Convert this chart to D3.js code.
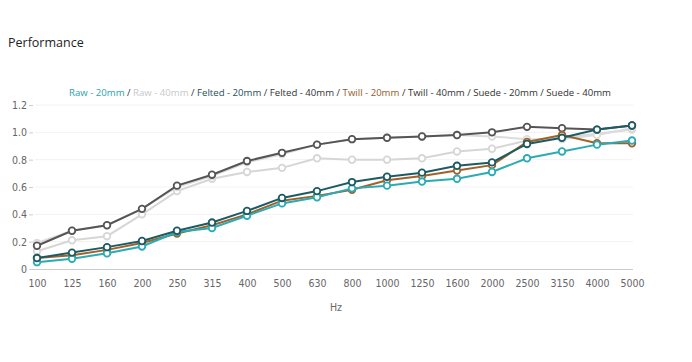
<!DOCTYPE html>
<html><head><meta charset="utf-8">
<script src="https://cdn.jsdelivr.net/npm/d3@7"></script>
<style>body{margin:0;background:#fff}svg{display:block}</style>
</head><body>
<svg id="c" width="692" height="362"></svg>
<script>
const categories = ["100","125","160","200","250","315","400","500","630","800","1000","1250","1600","2000","2500","3150","4000","5000"];
const yTicks = [0,0.2,0.4,0.6,0.8,1.0,1.2];
const yTickLabels = ["0","0.2","0.4","0.6","0.8","1.0","1.2"];
const legendLabels = ["Raw - 20mm","Raw - 40mm","Felted - 20mm","Felted - 40mm","Twill - 20mm","Twill - 40mm","Suede - 20mm","Suede - 40mm"];
const legendColors = ["#2aa3ad","#c8c8c8","#1f4f58","#333333","#9a5a28","#333333","#333333","#333333"];

const raw40    = [0.13,0.21,0.24,0.40,0.57,0.66,0.71,0.74,0.81,0.80,0.80,0.81,0.86,0.88,0.94,0.96,0.99,1.02];
const twill40  = [0.19,0.28,0.32,0.44,0.60,0.68,0.78,0.84,0.91,0.95,0.96,0.97,0.98,0.97,0.95,0.95,0.98,1.03];
const felted40 = [0.17,0.28,0.32,0.44,0.61,0.69,0.79,0.85,0.91,0.95,0.96,0.97,0.98,1.00,1.04,1.03,1.02,1.05];
const twill20  = [0.08,0.10,0.14,0.19,0.26,0.32,0.40,0.50,0.535,0.58,0.65,0.68,0.72,0.76,0.93,0.98,0.92,0.92];
const raw20    = [0.05,0.075,0.115,0.165,0.27,0.30,0.39,0.48,0.525,0.59,0.61,0.64,0.66,0.71,0.81,0.86,0.91,0.94];
const felted20 = [0.08,0.12,0.16,0.205,0.28,0.34,0.425,0.52,0.57,0.636,0.675,0.705,0.755,0.78,0.915,0.96,1.02,1.05];

const series = [
  {name:"Raw - 40mm", values:raw40, color:"#d6d6d6"},
  {name:"Twill - 40mm", values:twill40, color:"#dcdcdc"},
  {name:"Felted - 40mm", values:felted40, color:"#555555"},
  {name:"Twill - 20mm", values:twill20, color:"#a0612a"},
  {name:"Raw - 20mm", values:raw20, color:"#2aabb5"},
  {name:"Felted - 20mm", values:felted20, color:"#1d5b63"}
];

const svg = d3.select("#c");
const x = d3.scalePoint().domain(categories).range([37, 632]);
const y = d3.scaleLinear().domain([0,1.2]).range([269,105]);
const tickFont = "DejaVu Sans Condensed, Liberation Sans Narrow, sans-serif";

svg.append("text").attr("x",8).attr("y",47).text("Performance")
  .attr("font-family","Open Sans, sans-serif").attr("font-size",12.5).attr("fill","#222");

// legend
const lg = svg.append("text").attr("x",340).attr("y",96).attr("text-anchor","middle")
  .attr("font-family","Open Sans, sans-serif").attr("font-size",9.6);
legendLabels.forEach((l,i)=>{
  if(i>0) lg.append("tspan").attr("fill","#333").text(" / ");
  lg.append("tspan").attr("fill",legendColors[i]).text(l);
});

// grid
svg.append("g").selectAll("line").data(yTicks.slice(1)).join("line")
  .attr("x1",35).attr("x2",633).attr("y1",d=>y(d)).attr("y2",d=>y(d))
  .attr("stroke","#f2f2f2").attr("stroke-width",1);

// axes
const yAxis = d3.axisLeft(y).tickValues(yTicks).tickFormat((d,i)=>yTickLabels[i]).tickSize(4).tickPadding(2);
const ya = svg.append("g").attr("transform","translate(33,0)").call(yAxis);
ya.select(".domain").remove();
ya.selectAll("line").attr("stroke","#ccc");
ya.selectAll("text").attr("font-family",tickFont).attr("font-size",10.5).attr("fill","#666");

svg.append("line").attr("x1",33).attr("x2",633).attr("y1",269.5).attr("y2",269.5).attr("stroke","#ccc");
const xAxis = d3.axisBottom(x).tickSize(0).tickPadding(10);
const xa = svg.append("g").attr("transform","translate(0,270)").call(xAxis);
xa.select(".domain").remove();
xa.selectAll("text").attr("font-family",tickFont).attr("font-size",10.5).attr("fill","#666");
svg.append("text").attr("x",336).attr("y",311).attr("text-anchor","middle").text("Hz")
  .attr("font-family",tickFont).attr("font-size",10.5).attr("fill","#666");

const line = d3.line().x((d,i)=>x(categories[i])).y(d=>y(d));
const sg = svg.selectAll("g.s").data(series).join("g").attr("class","s");
sg.append("path").attr("d",d=>line(d.values)).attr("fill","none")
  .attr("stroke",d=>d.color).attr("stroke-width",2);
sg.selectAll("circle").data(d=>d.values.map((v,i)=>({v,i,c:d.color}))).join("circle")
  .attr("cx",d=>x(categories[d.i])).attr("cy",d=>y(d.v)).attr("r",3.3)
  .attr("fill","#fff").attr("stroke",d=>d.c).attr("stroke-width",1.8);
</script>
</body></html>
